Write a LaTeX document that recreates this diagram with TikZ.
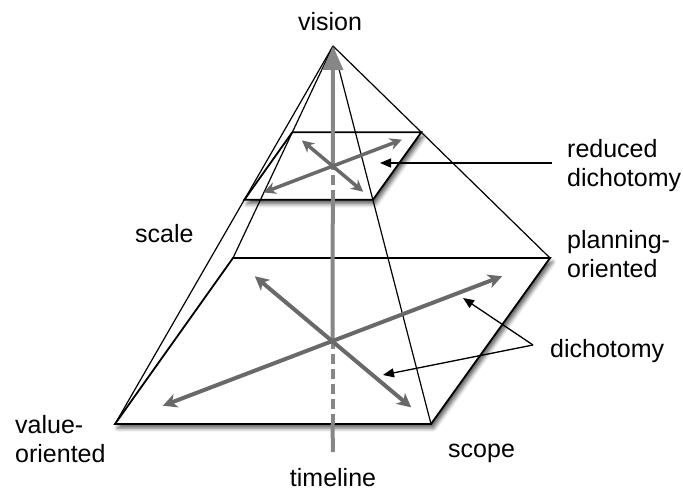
\documentclass[tikz,border=0pt]{standalone}
\usepackage{fontspec}
\setmainfont{Liberation Sans}
\usetikzlibrary{arrows.meta,calc,shadows.blur}
\definecolor{crossgray}{RGB}{105,105,105}
\definecolor{timegray}{RGB}{135,135,135}
\begin{document}
\begin{tikzpicture}[x=1pt,y=-1pt,
  edge/.style={line width=1.2pt, black},
  plane/.style={line width=1.8pt, black, fill=white, line join=miter,
    blur shadow={shadow xshift=2.5pt, shadow yshift=-4pt, shadow blur radius=4pt, shadow opacity=65}},
  dich/.style={line width=4pt, crossgray,
    {Stealth[length=14pt,width=14pt,inset=4pt]}-{Stealth[length=14pt,width=14pt,inset=4pt]}},
  sdich/.style={line width=3.5pt, crossgray,
    {Stealth[length=12pt,width=12pt,inset=4pt]}-{Stealth[length=12pt,width=12pt,inset=4pt]}},
  timeln/.style={line width=4pt, timegray},
  timedash/.style={timeln, dash pattern=on 10pt off 5pt},
  note/.style={line width=1.3pt, black, -{Triangle[length=11pt,width=9pt]}},
  lbl/.style={font=\fontsize{25}{29}\selectfont, inner sep=0pt, align=left}]
\useasboundingbox (0,0) rectangle (683,490);
% pyramid geometry
\coordinate (A) at (333,46);
\coordinate (BL) at (115,424);
\coordinate (BR) at (431,424);
\coordinate (TR) at (550,258);
\coordinate (TL) at (233,258);
\coordinate (sBL) at ($(A)!0.407!(BL)$);
\coordinate (sBR) at ($(A)!0.407!(BR)$);
\coordinate (sTR) at ($(A)!0.407!(TR)$);
\coordinate (sTL) at ($(A)!0.407!(TL)$);
\coordinate (C) at ($(BL)!0.5!(TR)$);
\coordinate (sC) at ($(sBL)!0.5!(sTR)$);
\coordinate (F) at (C |- BL);
\coordinate (sF) at (sC |- sBL);
\coordinate (T0) at (333,452);
% planes
\filldraw[plane] (BL) -- (BR) -- (TR) -- (TL) -- cycle;
\filldraw[plane] (sBL) -- (sBR) -- (sTR) -- (sTL) -- cycle;
% pyramid edges
\draw[edge] (A) -- (BL);
\draw[edge] (A) -- (TL);
\draw[edge] (A) -- (TR);
\draw[edge] (A) -- (BR);
% timeline
\draw[timeln] (T0) -- (F);
\draw[timedash] (F) -- (C);
\draw[timeln] (C) -- (sF);
\draw[timedash] (sF) -- (sC);
\draw[timeln, -{Triangle[length=24pt,width=20pt]}] (sC) -- (A);
% dichotomy arrows
\draw[dich] ($(BL)!0.11!(TR)$) -- ($(BL)!0.89!(TR)$);
\draw[dich] ($(TL)!0.11!(BR)$) -- ($(TL)!0.9!(BR)$);
\draw[sdich] ($(sBL)!0.11!(sTR)$) -- ($(sBL)!0.89!(sTR)$);
\draw[sdich] ($(sTL)!0.12!(sBR)$) -- ($(sTL)!0.88!(sBR)$);
% labels
\node[lbl, anchor=base] (vision) at (330,30) {vision};
\node[lbl, anchor=base west] (scale) at (135,242) {scale};
\node[lbl, anchor=base west] (scope) at (448,457) {scope};
\node[lbl, anchor=base] (timeline) at (333,486) {timeline};
\node[lbl, anchor=base west] (dicho) at (550,357) {dichotomy};
\node[lbl, anchor=north west] (reduced) at (567,139) {reduced\\dichotomy};
\node[lbl, anchor=north west] (planning) at (567,230) {planning-\\oriented};
\node[lbl, anchor=north west] (value) at (15,415) {value-\\oriented};
% annotation arrows
\coordinate (rdS) at (552,163);
\coordinate (rdT) at (380,163);
\coordinate (dj) at (533,345);
\coordinate (dT1) at (463,298);
\coordinate (dT2) at (383,375);
\draw[note] (rdS) -- (rdT);
\draw[note] (dj) -- (dT1);
\draw[note] (dj) -- (dT2);
\end{tikzpicture}
\end{document}
